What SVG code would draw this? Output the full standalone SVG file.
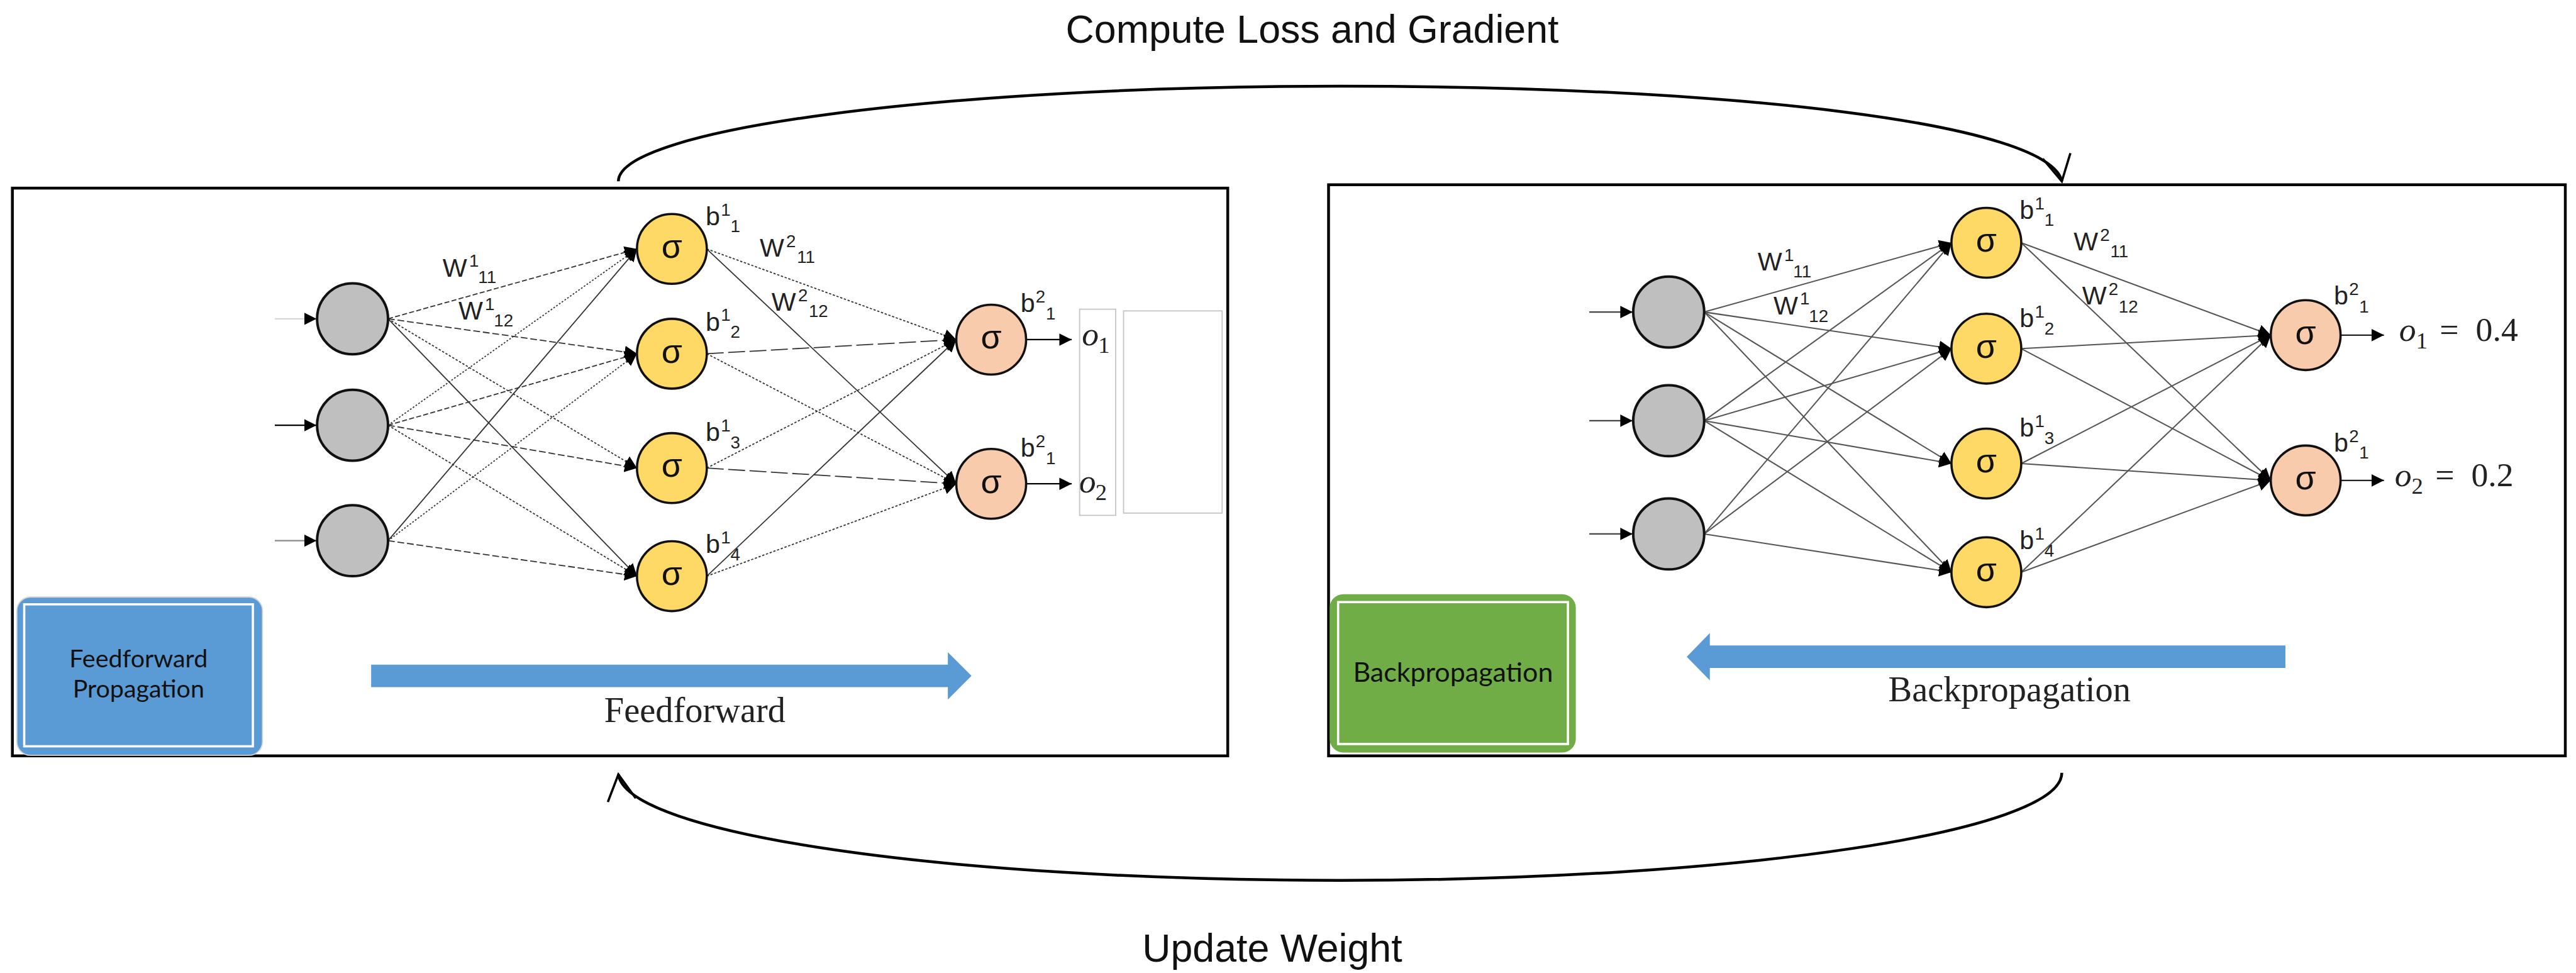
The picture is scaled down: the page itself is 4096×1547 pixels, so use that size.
<svg xmlns="http://www.w3.org/2000/svg" width="4096" height="1547" viewBox="0 0 4096 1547">
<defs>
<style>
.frame{fill:none;stroke:#000;stroke-width:5}
.in{fill:#BFBFBF;stroke:#111;stroke-width:4.5}
.hid{fill:#FFD966;stroke:#111;stroke-width:4}
.out{fill:#F8CBAD;stroke:#111;stroke-width:4}
.sig{font-family:"Liberation Sans",Arial,sans-serif;font-size:60px;text-anchor:middle;fill:#111}
.lbl{font-family:"Liberation Sans",Arial,sans-serif;font-size:46px;fill:#222}
.sc{font-size:31px}
.math{font-family:"Liberation Serif","Times New Roman",serif;font-size:60px;fill:#222}
.msub{font-size:41px}
.it{font-style:italic}
.cap{font-family:"Liberation Serif","Times New Roman",serif;font-size:63px;fill:#222}
.title{font-family:"Liberation Sans",Arial,sans-serif;font-size:70px;fill:#111;text-anchor:middle}
.boxtxt{font-family:Lato,"Open Sans",sans-serif;fill:#111;text-anchor:middle}
.e{fill:none;stroke:#333;stroke-width:2;marker-end:url(#ah)}
.g{fill:none;stroke:#555;stroke-width:2.3;marker-end:url(#ah)}
.io{fill:none;stroke-width:2.5;marker-end:url(#ah)}
.loop{fill:none;stroke:#000;stroke-width:5;marker-end:url(#open)}
.band{fill:#5B9BD5}
.ring{fill:none;stroke:#fff;stroke-width:4}
.fine{fill:none;stroke:#c4c4c4;stroke-width:2}
</style>
<marker id="ah" markerUnits="userSpaceOnUse" viewBox="0 0 22 22" refX="22" refY="11" markerWidth="22" markerHeight="22" orient="auto">
<path d="M0,0 L22,11 L0,22 z" fill="#000"/>
</marker>
<marker id="open" markerUnits="userSpaceOnUse" viewBox="-52 -30 56 60" refX="0" refY="0" markerWidth="56" markerHeight="60" orient="auto">
<path d="M-46,-25 L0,0 L-46,25" fill="none" stroke="#000" stroke-width="4"/>
</marker>
</defs>
<rect width="4096" height="1547" fill="#fff"/>
<g transform="scale(0.8955)">

<!-- panel frames -->
<g id="frame-forward"><rect class="frame" x="22" y="334" width="2158" height="1008"/></g>
<g id="frame-backward"><rect class="frame" x="2359" y="328" width="2196" height="1014"/></g>

<!-- loop arrows between panels -->
<g id="connectors">
<path class="loop" d="M1098,322 C1098,229 1672,153 2380,153 C3088,153 3640,220 3661,322"/>
<path class="loop" d="M3661,1372 C3661,1477 3088,1563 2380,1563 C1672,1563 1112,1480 1098,1375"/>

<!-- forward panel: input to hidden -->
<line class="e" x1="689" y1="566" x2="1131" y2="442" stroke-dasharray="9 4"/>
<line class="e" x1="689" y1="566" x2="1131" y2="628" stroke-dasharray="12 5"/>
<line class="e" x1="689" y1="566" x2="1131" y2="831" stroke-dasharray="4 3"/>
<line class="e" x1="689" y1="566" x2="1131" y2="1023"/>
<line class="e" x1="689" y1="755" x2="1131" y2="442" stroke-dasharray="3 3"/>
<line class="e" x1="689" y1="755" x2="1131" y2="628" stroke-dasharray="9 4"/>
<line class="e" x1="689" y1="755" x2="1131" y2="831" stroke-dasharray="12 5"/>
<line class="e" x1="689" y1="755" x2="1131" y2="1023" stroke-dasharray="4 3"/>
<line class="e" x1="689" y1="960" x2="1131" y2="442"/>
<line class="e" x1="689" y1="960" x2="1131" y2="628" stroke-dasharray="3 3"/>
<line class="e" x1="689" y1="960" x2="1131" y2="1023" stroke-dasharray="12 5"/>
<!-- forward panel: hidden to output -->
<line class="e" x1="1255" y1="442" x2="1698" y2="603" stroke-dasharray="4 3"/>
<line class="e" x1="1255" y1="442" x2="1698" y2="859"/>
<line class="e" x1="1255" y1="628" x2="1698" y2="603" stroke-dasharray="30 8"/>
<line class="e" x1="1255" y1="628" x2="1698" y2="859" stroke-dasharray="4 3"/>
<line class="e" x1="1255" y1="831" x2="1698" y2="603" stroke-dasharray="4 3"/>
<line class="e" x1="1255" y1="831" x2="1698" y2="859" stroke-dasharray="30 8"/>
<line class="e" x1="1255" y1="1023" x2="1698" y2="603"/>
<line class="e" x1="1255" y1="1023" x2="1698" y2="859" stroke-dasharray="4 3"/>
<!-- forward panel: inputs and outputs -->
<line class="io" x1="488" y1="566" x2="562" y2="566" stroke="#d8d8d8"/>
<line class="io" x1="488" y1="755" x2="562" y2="755" stroke="#000"/>
<line class="io" x1="488" y1="960" x2="562" y2="960" stroke="#888"/>
<line class="io" x1="1823" y1="603" x2="1903" y2="603" stroke="#000"/>
<line class="io" x1="1823" y1="859" x2="1903" y2="859" stroke="#000"/>

<!-- backward panel: input to hidden -->
<line class="g" x1="3026" y1="554" x2="3465" y2="431"/>
<line class="g" x1="3026" y1="554" x2="3465" y2="619"/>
<line class="g" x1="3026" y1="554" x2="3465" y2="823"/>
<line class="g" x1="3026" y1="554" x2="3465" y2="1016"/>
<line class="g" x1="3026" y1="747" x2="3465" y2="431"/>
<line class="g" x1="3026" y1="747" x2="3465" y2="619"/>
<line class="g" x1="3026" y1="747" x2="3465" y2="823"/>
<line class="g" x1="3026" y1="747" x2="3465" y2="1016"/>
<line class="g" x1="3026" y1="948" x2="3465" y2="431"/>
<line class="g" x1="3026" y1="948" x2="3465" y2="619"/>
<line class="g" x1="3026" y1="948" x2="3465" y2="1016"/>
<!-- backward panel: hidden to output -->
<line class="g" x1="3589" y1="431" x2="4032" y2="595"/>
<line class="g" x1="3589" y1="431" x2="4032" y2="853"/>
<line class="g" x1="3589" y1="619" x2="4032" y2="595"/>
<line class="g" x1="3589" y1="619" x2="4032" y2="853"/>
<line class="g" x1="3589" y1="823" x2="4032" y2="595"/>
<line class="g" x1="3589" y1="823" x2="4032" y2="853"/>
<line class="g" x1="3589" y1="1016" x2="4032" y2="595"/>
<line class="g" x1="3589" y1="1016" x2="4032" y2="853"/>
<!-- backward panel: inputs and outputs -->
<line class="io" x1="2822" y1="554" x2="2899" y2="554" stroke="#444"/>
<line class="io" x1="2822" y1="747" x2="2899" y2="747" stroke="#444"/>
<line class="io" x1="2822" y1="948" x2="2899" y2="948" stroke="#444"/>
<line class="io" x1="4156" y1="595" x2="4233" y2="595" stroke="#222"/>
<line class="io" x1="4156" y1="853" x2="4233" y2="853" stroke="#222"/>
</g>

<!-- titles -->
<text class="title" x="2330" y="76">Compute Loss and Gradient</text>
<text class="title" x="2259" y="1707">Update Weight</text>

<!-- forward panel nodes -->
<g id="fx1"><circle class="in" cx="626" cy="566" r="63"/></g>
<g id="fx2"><circle class="in" cx="626" cy="755" r="63"/></g>
<g id="fx3"><circle class="in" cx="626" cy="960" r="63"/></g>
<g id="fh1"><circle class="hid" cx="1193" cy="442" r="62"/><text class="sig" x="1193" y="458">σ</text></g>
<g id="fh2"><circle class="hid" cx="1193" cy="628" r="62"/><text class="sig" x="1193" y="644">σ</text></g>
<g id="fh3"><circle class="hid" cx="1193" cy="831" r="62"/><text class="sig" x="1193" y="847">σ</text></g>
<g id="fh4"><circle class="hid" cx="1193" cy="1023" r="62"/><text class="sig" x="1193" y="1039">σ</text></g>
<g id="fo1"><circle class="out" cx="1760" cy="603" r="62"/><text class="sig" x="1760" y="619">σ</text></g>
<g id="fo2"><circle class="out" cx="1760" cy="859" r="62"/><text class="sig" x="1760" y="875">σ</text></g>

<!-- forward panel labels -->
<g id="forward-labels" class="lbl">
<text x="786" y="491">W</text><text class="sc" x="833" y="474">1</text><text class="sc" x="849" y="503">11</text>
<text x="814" y="567">W</text><text class="sc" x="861" y="550">1</text><text class="sc" x="877" y="580">12</text>
<text x="1349" y="456">W</text><text class="sc" x="1396" y="439">2</text><text class="sc" x="1415" y="467">11</text>
<text x="1370" y="552">W</text><text class="sc" x="1417" y="535">2</text><text class="sc" x="1436" y="563">12</text>
<text x="1253" y="400">b</text><text class="sc" x="1280" y="383">1</text><text class="sc" x="1297" y="412">1</text>
<text x="1253" y="587">b</text><text class="sc" x="1280" y="570">1</text><text class="sc" x="1297" y="600">2</text>
<text x="1253" y="783">b</text><text class="sc" x="1280" y="766">1</text><text class="sc" x="1297" y="796">3</text>
<text x="1253" y="982">b</text><text class="sc" x="1280" y="965">1</text><text class="sc" x="1297" y="995">4</text>
<text x="1812" y="554">b</text><text class="sc" x="1839" y="537">2</text><text class="sc" x="1857" y="567">1</text>
<text x="1812" y="811">b</text><text class="sc" x="1839" y="794">2</text><text class="sc" x="1857" y="824">1</text>
</g>
<g id="forward-outputs" class="math">
<text class="it" x="1921" y="613">o</text><text class="msub" x="1950" y="627">1</text>
<text class="it" x="1916" y="874">o</text><text class="msub" x="1945" y="888">2</text>
</g>
<rect class="fine" x="1917" y="549" width="64" height="366"/>
<rect class="fine" x="1995" y="552" width="175" height="359"/>

<!-- forward panel tag and direction arrow -->
<g id="tag-forward">
<rect x="30" y="1060" width="436" height="281" rx="24" fill="#5B9BD5" stroke="#d4d4d4" stroke-width="2"/>
<rect class="ring" x="43" y="1073" width="406" height="252"/>
<text class="boxtxt" x="246" y="1185" font-size="44">Feedforward</text>
<text class="boxtxt" x="246" y="1238" font-size="44">Propagation</text>
</g>
<g id="arrow-forward">
<polygon class="band" points="659,1180 1683,1180 1683,1158 1725,1200 1683,1242 1683,1220 659,1220"/>
<text class="cap" x="1073" y="1282">Feedforward</text>
</g>

<!-- backward panel nodes -->
<g id="bx1"><circle class="in" cx="2963" cy="554" r="63"/></g>
<g id="bx2"><circle class="in" cx="2963" cy="747" r="63"/></g>
<g id="bx3"><circle class="in" cx="2963" cy="948" r="63"/></g>
<g id="bh1"><circle class="hid" cx="3527" cy="431" r="62"/><text class="sig" x="3527" y="447">σ</text></g>
<g id="bh2"><circle class="hid" cx="3527" cy="619" r="62"/><text class="sig" x="3527" y="635">σ</text></g>
<g id="bh3"><circle class="hid" cx="3527" cy="823" r="62"/><text class="sig" x="3527" y="839">σ</text></g>
<g id="bh4"><circle class="hid" cx="3527" cy="1016" r="62"/><text class="sig" x="3527" y="1032">σ</text></g>
<g id="bo1"><circle class="out" cx="4094" cy="595" r="62"/><text class="sig" x="4094" y="611">σ</text></g>
<g id="bo2"><circle class="out" cx="4094" cy="853" r="62"/><text class="sig" x="4094" y="869">σ</text></g>

<!-- backward panel labels -->
<g id="backward-labels" class="lbl">
<text x="3121" y="480">W</text><text class="sc" x="3168" y="463">1</text><text class="sc" x="3184" y="492">11</text>
<text x="3149" y="558">W</text><text class="sc" x="3196" y="541">1</text><text class="sc" x="3212" y="572">12</text>
<text x="3682" y="445">W</text><text class="sc" x="3729" y="428">2</text><text class="sc" x="3747" y="457">11</text>
<text x="3697" y="541">W</text><text class="sc" x="3744" y="524">2</text><text class="sc" x="3762" y="555">12</text>
<text x="3586" y="389">b</text><text class="sc" x="3613" y="372">1</text><text class="sc" x="3630" y="401">1</text>
<text x="3586" y="581">b</text><text class="sc" x="3613" y="564">1</text><text class="sc" x="3630" y="594">2</text>
<text x="3586" y="775">b</text><text class="sc" x="3613" y="758">1</text><text class="sc" x="3630" y="788">3</text>
<text x="3586" y="975">b</text><text class="sc" x="3613" y="958">1</text><text class="sc" x="3630" y="988">4</text>
<text x="4144" y="541">b</text><text class="sc" x="4171" y="524">2</text><text class="sc" x="4189" y="555">1</text>
<text x="4144" y="802">b</text><text class="sc" x="4171" y="785">2</text><text class="sc" x="4189" y="814">1</text>
</g>
<g id="backward-outputs" class="math">
<text class="it" x="4260" y="605">o</text><text class="msub" x="4290" y="619">1</text><text x="4332" y="605">=</text><text x="4396" y="605">0.4</text>
<text class="it" x="4252" y="863">o</text><text class="msub" x="4282" y="877">2</text><text x="4324" y="863">=</text><text x="4388" y="863">0.2</text>
</g>

<!-- backward panel tag and direction arrow -->
<g id="tag-backward">
<rect x="2361" y="1055" width="437" height="281" rx="24" fill="#70AD47"/>
<rect class="ring" x="2376" y="1069" width="408" height="252"/>
<text class="boxtxt" x="2580" y="1210" font-size="48">Backpropagation</text>
</g>
<g id="arrow-backward">
<polygon class="band" points="4058,1146 3036,1146 3036,1124 2995,1166 3036,1208 3036,1186 4058,1186"/>
<text class="cap" x="3353" y="1245">Backpropagation</text>
</g>
</g>
</svg>
